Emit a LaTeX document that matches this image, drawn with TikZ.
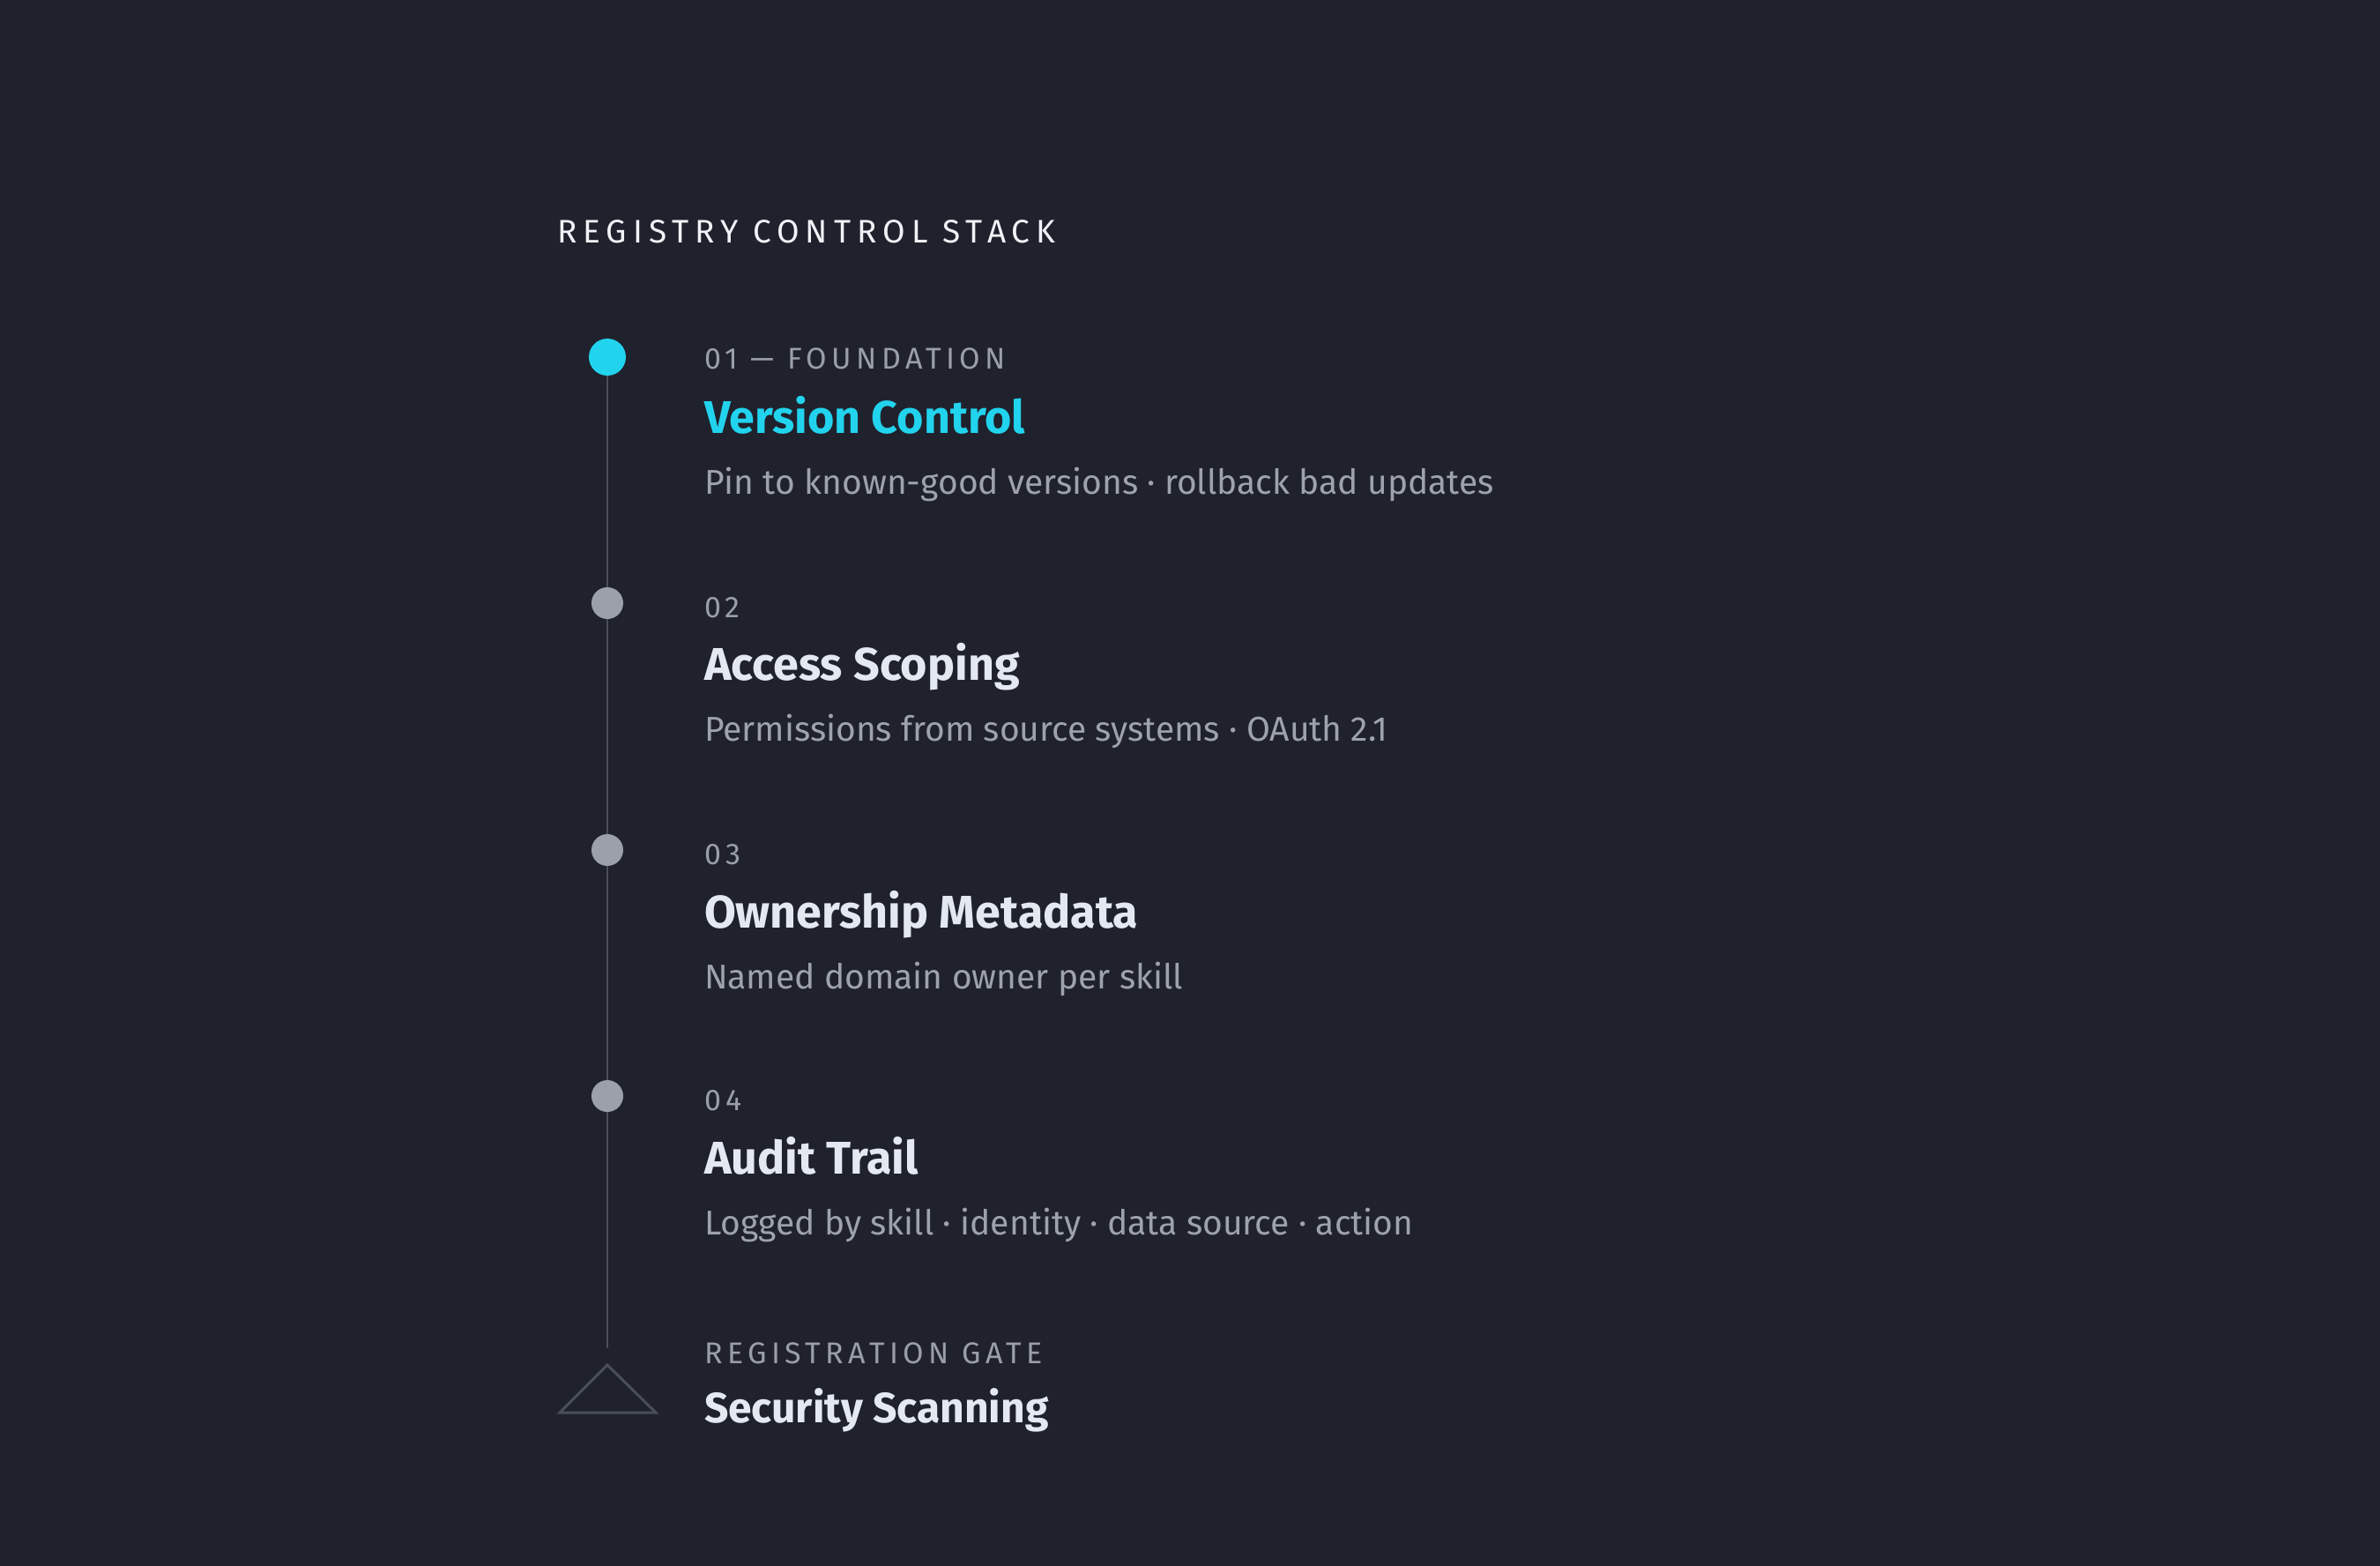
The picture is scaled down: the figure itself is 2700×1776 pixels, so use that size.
\documentclass[tikz,border=0pt]{standalone}
\usepackage{fontspec}
\setmainfont{Fira Sans}
\definecolor{bg}{HTML}{1F222D}
\definecolor{cyanacc}{HTML}{22D3EE}
\definecolor{dotgray}{HTML}{9CA0AB}
\definecolor{railgray}{HTML}{4A4E5A}
\definecolor{headwhite}{HTML}{F0F2F7}
\definecolor{titlewhite}{HTML}{E4E8F1}
\definecolor{labelgray}{HTML}{9A9EA9}
\definecolor{descgray}{HTML}{9EA2AD}
\begin{document}
\begin{tikzpicture}[x=1pt,y=-1pt,
  txt/.style={anchor=base west,inner sep=0pt,outer sep=0pt},
  head/.style={txt,text=headwhite,font=\fontsize{37}{44}\selectfont\addfontfeatures{LetterSpace=19}},
  lbl/.style={txt,text=labelgray,font=\fontsize{34}{40}\selectfont\addfontfeatures{LetterSpace=16}},
  ttl/.style={txt,text=titlewhite,font=\fontsize{52}{62}\selectfont\bfseries},
  dsc/.style={txt,text=descgray,font=\fontsize{39}{47}\selectfont},
  dot/.style={circle,fill=dotgray,minimum size=36pt,inner sep=0pt},
  rail/.style={draw=railgray,line width=2.5pt}
]
\fill[bg] (0,0) rectangle (2700,1776);
\useasboundingbox (0,0) rectangle (2700,1776);

\node[head] (hd) at (632,276) {REGISTRY CONTROL STACK};

\coordinate (railtop) at (689,405);
\coordinate (railbot) at (689,1529);
\draw[rail] (railtop) -- (railbot);

\node[dot,fill=cyanacc,minimum size=42pt] (d1) at (689,405) {};
\node[dot] (d2) at (689,684) {};
\node[dot] (d3) at (689,964) {};
\node[dot] (d4) at (689,1243) {};

\node[lbl] (l1) at (799,418) {01 — FOUNDATION};
\node[ttl,text=cyanacc] (t1) at (799,491) {Version Control};
\node[dsc] (s1) at (799,560) {Pin to known-good versions · rollback bad updates};

\node[lbl] (l2) at (799,700) {02};
\node[ttl] (t2) at (799,771) {Access Scoping};
\node[dsc] (s2) at (799,840) {Permissions from source systems · OAuth 2.1};

\node[lbl] (l3) at (799,980) {03};
\node[ttl] (t3) at (799,1052) {Ownership Metadata};
\node[dsc] (s3) at (799,1121) {Named domain owner per skill};

\node[lbl] (l4) at (799,1259) {04};
\node[ttl] (t4) at (799,1331) {Audit Trail};
\node[dsc] (s4) at (799,1400) {Logged by skill · identity · data source · action};

\coordinate (gtop) at (689,1548);
\coordinate (gleft) at (635,1602);
\coordinate (gright) at (744,1602);
\draw[rail,line width=3pt,line join=miter] (gtop) -- (gleft) -- (gright) -- cycle;

\node[lbl] (l5) at (799,1546) {REGISTRATION GATE};
\node[ttl,font=\fontsize{48}{58}\selectfont\bfseries] (t5) at (799,1613) {Security Scanning};
\end{tikzpicture}
\end{document}
